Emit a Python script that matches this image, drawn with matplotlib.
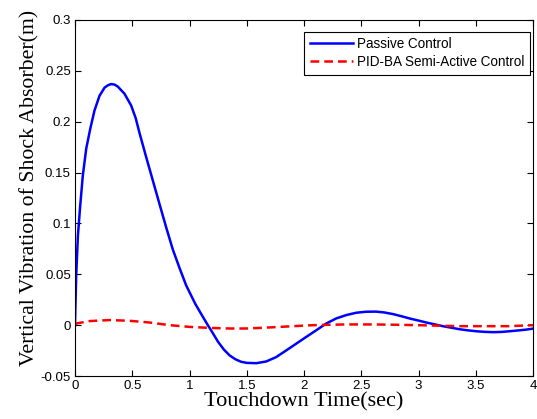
import matplotlib
matplotlib.use("Agg")
import matplotlib.pyplot as plt

# Passive control response
t_passive = [0.0, 0.002, 0.01, 0.025, 0.045, 0.068, 0.098, 0.133, 0.170, 0.214,
             0.258, 0.29, 0.316, 0.345, 0.374, 0.432, 0.49, 0.53, 0.563, 0.622,
             0.68, 0.738, 0.797, 0.854, 0.913, 0.971, 1.05, 1.12, 1.16, 1.2,
             1.25, 1.3, 1.35, 1.4, 1.45, 1.5, 1.583, 1.67, 1.757, 1.845,
             1.932, 2.019, 2.107, 2.194, 2.281, 2.369, 2.456, 2.543, 2.63, 2.70,
             2.776, 2.85, 2.921, 3.0, 3.067, 3.14, 3.212, 3.29, 3.358, 3.43,
             3.504, 3.58, 3.649, 3.72, 3.795, 3.87, 3.94, 4.0]
y_passive = [0.0, 0.0115, 0.048, 0.0876, 0.117, 0.147, 0.1736, 0.193, 0.211, 0.2255,
             0.2335, 0.236, 0.237, 0.2365, 0.2345, 0.2275, 0.216, 0.2035, 0.189, 0.165,
             0.142, 0.119, 0.0958, 0.0744, 0.0561, 0.039, 0.021, 0.0075, 0.0, -0.0072,
             -0.0165, -0.024, -0.0297, -0.0335, -0.036, -0.0371, -0.0374, -0.0357, -0.0314, -0.0248,
             -0.0182, -0.0116, -0.005, 0.0016, 0.0066, 0.0099, 0.0122, 0.0132, 0.0133, 0.0125,
             0.0109, 0.0088, 0.0066, 0.0045, 0.0026, 0.0008, -0.001, -0.0026, -0.004, -0.0051,
             -0.006, -0.0066, -0.0069, -0.0067, -0.006, -0.0052, -0.0044, -0.0034]

# PID-BA semi-active control response
t_semi = [0.0, 0.01, 0.127, 0.30, 0.476, 0.65, 0.825, 1.0, 1.175, 1.35, 1.49,
          1.64, 1.79, 1.94, 2.08, 2.23, 2.37, 2.6, 2.85, 3.1, 3.36, 3.6, 3.79, 4.0]
y_semi = [0.0015, 0.0016, 0.004, 0.005, 0.0043, 0.0026, 0.0, -0.0017, -0.0027, -0.0033, -0.0033,
          -0.0026, -0.0017, -0.0008, 0.0, 0.0004, 0.0007, 0.0007, 0.0003, -0.0003, -0.001, -0.001, -0.001, 0.0]

xticks = [0, 0.5, 1, 1.5, 2, 2.5, 3, 3.5, 4]
xtick_labels = ["0", "0.5", "1", "1.5", "2", "2.5", "3", "3.5", "4"]
yticks = [-0.05, 0, 0.05, 0.1, 0.15, 0.2, 0.25, 0.3]
ytick_labels = ["-0.05", "0", "0.05", "0.1", "0.15", "0.2", "0.25", "0.3"]

plt.rcParams['font.family'] = ['Liberation Sans', 'DejaVu Sans']

fig = plt.figure(figsize=(5.37, 4.19), dpi=100)
ax = fig.add_axes([0.1397, 0.1026, 0.8529, 0.8497])

ax.plot(t_passive, y_passive, color="#0000ff", linewidth=1.8, label="Passive Control")
ax.plot(t_semi, y_semi, color="#ff0000", linewidth=1.8, linestyle=(0, (3.5, 2)),
        label="PID-BA Semi-Active Control")

ax.set_xlim(0, 4)
ax.set_ylim(-0.05, 0.3)
ax.set_xticks(xticks)
ax.set_xticklabels(xtick_labels)
ax.set_yticks(yticks)
ax.set_yticklabels(ytick_labels)
ax.tick_params(direction="in", top=True, right=True, labelsize=9.5, length=4,
               width=0.8, pad=3)
for sp in ax.spines.values():
    sp.set_linewidth(0.8)

ax.set_xlabel("Touchdown Time(sec)", family="Liberation Serif", fontsize=16, labelpad=0)
ax.set_ylabel("Vertical Vibration of Shock Absorber(m)", family="Liberation Serif",
              fontsize=15.7, labelpad=1, y=0.527)

leg = ax.legend(loc="upper right", bbox_to_anchor=(0.9934, 0.967), borderaxespad=0,
                fontsize=9.75, fancybox=False, framealpha=1, edgecolor="black",
                handlelength=3.2, handletextpad=0.3, borderpad=0.4, labelspacing=0.3)
leg.get_frame().set_linewidth(0.8)

fig.savefig("out.png", dpi=100)
